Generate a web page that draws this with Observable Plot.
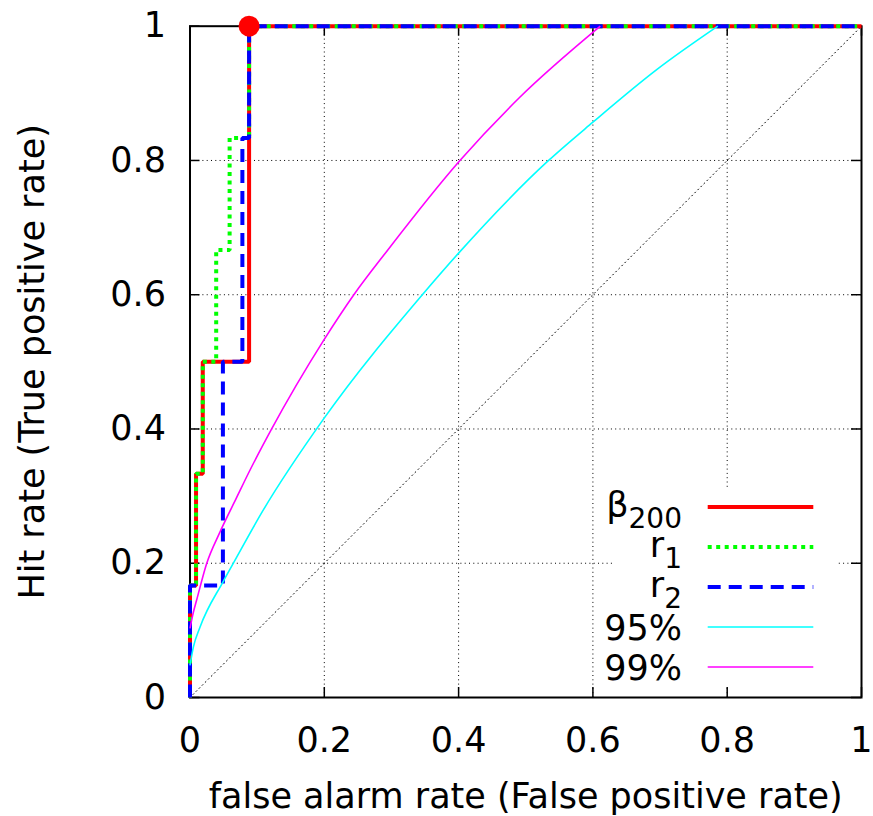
<!DOCTYPE html>
<html><head><meta charset="utf-8">
<script src="https://cdn.jsdelivr.net/npm/d3@7"></script>
<script src="https://cdn.jsdelivr.net/npm/@observablehq/plot@0.6"></script>
<style>
body{margin:0;background:#fff;}
#wrap{position:relative;width:873px;height:816px;}
#wrap svg{position:absolute;left:0;top:0;}
#legend{pointer-events:none;}
</style></head><body><div id="wrap"></div>
<script>
// ---- data ----
const xTicks = [0, 0.2, 0.4, 0.6, 0.8, 1];
const yTicks = [0, 0.2, 0.4, 0.6, 0.8, 1];
const gridTicks = [0.2, 0.4, 0.6, 0.8];
const diagonal = [0, 1];

const beta200FPR = [0, 0, 0.009, 0.019, 0.088, 1];
const beta200TPR = [0, 1/6, 2/6, 3/6, 1, 1];
const r1FPR = [0, 0, 0.009, 0.019, 0.039, 0.059, 0.088, 1];
const r1TPR = [0, 1/6, 2/6, 3/6, 4/6, 5/6, 1, 1];
const r2FPR = [0, 0, 0.049, 0.078, 0.088, 1];
const r2TPR = [0, 1/6, 3/6, 5/6, 1, 1];

const c95FPR = [0, 0.005, 0.015, 0.049, 0.064, 0.109, 0.199, 0.346, 0.4, 0.534, 0.6, 0.696, 0.786];
const c95TPR = [0.048, 0.075, 0.105, 0.172, 0.199, 0.279, 0.415, 0.600, 0.662, 0.80, 0.857, 0.936, 1];
const c99FPR = [0, 0.005, 0.0097, 0.0246, 0.0444, 0.069, 0.090, 0.121, 0.199, 0.244, 0.294, 0.402, 0.49, 0.611];
const c99TPR = [0.103, 0.127, 0.1445, 0.199, 0.246, 0.297, 0.340, 0.399, 0.532, 0.600, 0.666, 0.80, 0.893, 1];

const markFPR = [0.088];
const markTPR = [1];

const xTitle = "false alarm rate (False positive rate)";
const yTitle = "Hit rate (True positive rate)";

const legendMain = ["β", "r", "r", "95%", "99%"];
const legendSub = ["200", "1", "2", "", ""];

// ---- styles ----
const colors = ["#ff0000", "#00ff00", "#0000ff", "#00ffff", "#ff00ff"];
const widths = [4, 4, 4, 1.6, 1.6];
const dashes = [null, "4,4.5", "13,8", null, null];

const W = 873, H = 816, mL = 189.5, mR = 12, mT = 25.7, mB = 119;
const plotW = W - mL - mR, plotH = H - mT - mB;
const tickLen = 10;
const rows = (xs, ys) => xs.map((x, i) => ({x, y: ys[i]}));
const dotted = {stroke: "#000", strokeOpacity: 1, strokeWidth: 1, strokeDasharray: "1,3.3"};

const series = [
  [beta200FPR, beta200TPR, "step-after"],
  [r1FPR, r1TPR, "step-after"],
  [r2FPR, r2TPR, "step-after"],
  [c95FPR, c95TPR, "monotone-x"],
  [c99FPR, c99TPR, "monotone-x"]
];

const chart = Plot.plot({
  width: W, height: H,
  marginLeft: mL, marginRight: mR, marginTop: mT, marginBottom: mB,
  style: {fontFamily: "DejaVu Sans", fontSize: "35px", background: "white", color: "black"},
  x: {domain: [0, 1], axis: null, label: null},
  y: {domain: [0, 1], axis: null, label: null},
  marks: [
    Plot.gridX(gridTicks, dotted),
    Plot.gridY(gridTicks, dotted),
    Plot.line(diagonal.map(d => ({x: d, y: d})), {x: "x", y: "y", ...dotted}),
    Plot.frame({stroke: "#000", strokeWidth: 2}),
    Plot.ruleX(xTicks, {x: d => d, insetTop: plotH - tickLen, stroke: "#000", strokeWidth: 1.5}),
    Plot.ruleX(xTicks, {x: d => d, insetBottom: plotH - tickLen, stroke: "#000", strokeWidth: 1.5}),
    Plot.ruleY(yTicks, {y: d => d, insetRight: plotW - tickLen, stroke: "#000", strokeWidth: 1.5}),
    Plot.ruleY(yTicks, {y: d => d, insetLeft: plotW - tickLen, stroke: "#000", strokeWidth: 1.5}),
    Plot.axisX(xTicks, {anchor: "bottom", tickSize: 0, tickPadding: 30, tickFormat: d => String(d), fontSize: 35, label: null}),
    Plot.axisY(yTicks, {anchor: "left", tickSize: 0, tickPadding: 24, tickFormat: d => String(d), fontSize: 35, label: null}),
    ...series.map(([xs, ys, curve], i) => Plot.line(rows(xs, ys), {
      x: "x", y: "y", curve,
      stroke: colors[i], strokeWidth: widths[i],
      strokeDasharray: dashes[i], strokeLinejoin: "miter", strokeLinecap: "butt"
    })),
    Plot.dot(rows(markFPR, markTPR), {x: "x", y: "y", r: 10.5, fill: "#ff0000", stroke: null}),
    Plot.text([xTitle], {text: d => d, frameAnchor: "bottom", dy: 110, lineAnchor: "bottom", textAnchor: "middle", fontSize: 35}),
    Plot.text([yTitle], {text: d => d, frameAnchor: "left", dx: -146.5, rotate: -90, lineAnchor: "bottom", textAnchor: "middle", fontSize: 35})
  ]
});
document.getElementById("wrap").appendChild(chart);

// ---- legend (opaque key box inside the frame) ----
const lg = d3.select("#wrap").append("svg").attr("id", "legend").attr("width", W).attr("height", H);
lg.append("rect").attr("x", 612).attr("y", 488).attr("width", 226).attr("height", 198).attr("fill", "white");
legendMain.forEach((name, i) => {
  const cy = 507 + 40 * i;
  const hasSub = legendSub[i] !== "";
  const t = lg.append("text")
    .attr("x", 682).attr("y", cy + (hasSub ? 10 : 13))
    .attr("text-anchor", "end")
    .attr("font-family", "DejaVu Sans").attr("font-size", 35).attr("fill", "#000");
  t.append("tspan").text(name);
  if (hasSub) t.append("tspan").attr("dy", 11).attr("font-size", 28).text(legendSub[i]);
  lg.append("line")
    .attr("x1", 707.7).attr("x2", 813.3).attr("y1", cy).attr("y2", cy)
    .attr("stroke", colors[i]).attr("stroke-width", widths[i])
    .attr("stroke-dasharray", dashes[i]);
});
</script></body></html>
